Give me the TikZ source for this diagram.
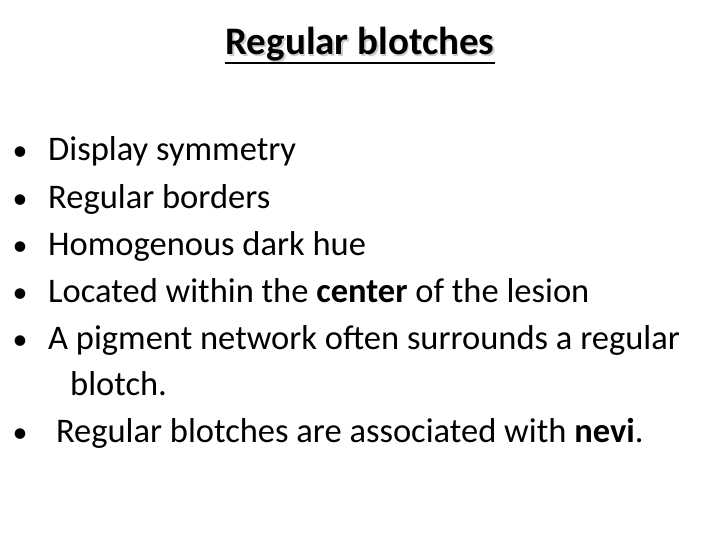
\documentclass[tikz,border=0pt]{standalone}
\usepackage{fontspec}
\setmainfont{Carlito}
\begin{document}
\begin{tikzpicture}[x=1pt,y=1pt,
  item/.style={anchor=base west,inner sep=0pt,font=\fontsize{34.5}{41}\selectfont},
  bul/.style={anchor=base,inner sep=0pt,font=\fontsize{30}{36}\selectfont}]
\useasboundingbox (0,0) rectangle (720,-540);
\node[anchor=base,inner sep=0pt,font=\fontsize{39}{46}\selectfont\bfseries,text=gray!40] (ts) at (361.5,-56.5) {Regular blotches};
\node[anchor=base,inner sep=0pt,font=\fontsize{39}{46}\selectfont\bfseries] (t) at (360,-55) {Regular blotches};
\draw[line width=1.5pt] (t.west|-0,-63) -- (t.east|-0,-63);
\foreach \y/\n in {161/a,208/b,255/c,302/d,349/e,442/f}{
  \node[bul] (b\n) at (20,-\y) {•};
}
\node[item] (i1) at (48,-161) {Display symmetry};
\node[item] (i2) at (48,-208) {Regular borders};
\node[item] (i3) at (48,-255) {Homogenous dark hue};
\node[item] (i4) at (48,-302) {Located within the \textbf{center} of the lesion};
\node[item] (i5) at (48,-349) {A pigment network often surrounds a regular};
\node[item] (i6) at (70,-395) {blotch.};
\node[item] (i7) at (48,-442) {\ Regular blotches are associated with \textbf{nevi}.};
\end{tikzpicture}
\end{document}
